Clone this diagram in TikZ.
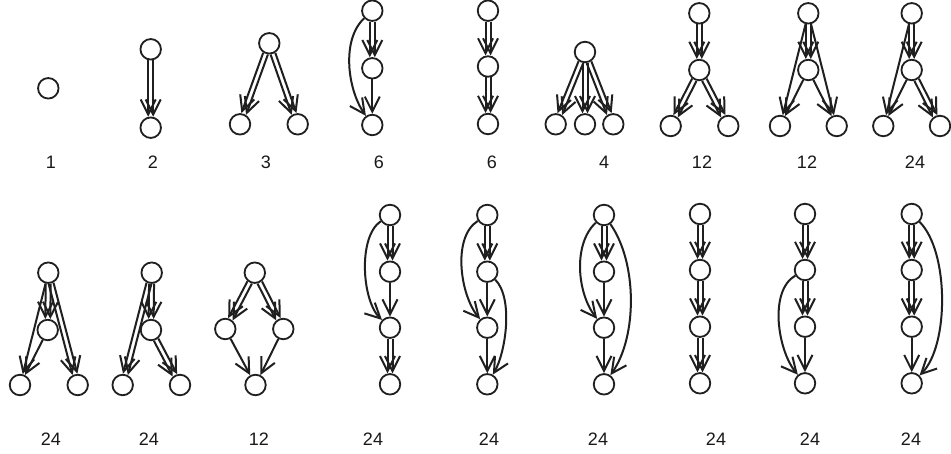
\documentclass[tikz,border=0pt]{standalone}
\usepackage{fontspec}
\setmainfont{Liberation Sans}
\usetikzlibrary{arrows.meta,calc}
\tikzset{
  nd/.style={circle,draw=black!88,line width=1.8pt,minimum size=20.5pt,inner sep=0pt},
  arr/.style={draw=black!88,line width=2pt,-{Straight Barb[length=15pt,width=15pt]}},
  lbl/.style={font=\fontsize{18}{20}\selectfont,text=black!90},
}
\newcommand\dbledge[2]{%
  \draw[arr,shorten <=11pt,shorten >=11pt] ($(#1)!2.5pt!90:(#2)$) -- ($(#2)!2.5pt!-90:(#1)$);
  \draw[arr,shorten <=11pt,shorten >=11pt] ($(#1)!2.5pt!-90:(#2)$) -- ($(#2)!2.5pt!90:(#1)$);}
\begin{document}
\begin{tikzpicture}[x=1pt,y=1pt]
\useasboundingbox[fill=white] (0,0) rectangle (951,-454);
% ---------- row 1 ----------
% D1
\node[nd] (a1) at (48.3,-88.3) {};
\node[lbl] (la) at (51,-162) {1};
% D2
\node[nd] (b1) at (150.7,-49.3) {};
\node[nd] (b2) at (150.7,-127.7) {};
\node[lbl] (lb) at (153,-162) {2};
\dbledge{b1}{b2}
% D3
\node[nd] (c1) at (269.3,-43.3) {};
\node[nd] (c2) at (240,-124.3) {};
\node[nd] (c3) at (297.7,-124.3) {};
\node[lbl] (lc) at (266,-162) {3};
\dbledge{c1}{c2}
\dbledge{c1}{c3}
% D4
\node[nd] (d1) at (372.3,-10.7) {};
\node[nd] (d2) at (372.3,-68.3) {};
\node[nd] (d3) at (372.3,-125) {};
\node[lbl] (ld) at (379,-162) {6};
\dbledge{d1}{d2}
\draw[arr] (d2) -- (d3);
\draw[arr] (d1) to[out=223,in=125,looseness=0.83] (d3);
% D5
\node[nd] (e1) at (488,-10.7) {};
\node[nd] (e2) at (488,-66.5) {};
\node[nd] (e3) at (488,-124) {};
\node[lbl] (le) at (492,-162) {6};
\dbledge{e1}{e2}
\dbledge{e2}{e3}
% D6
\node[nd] (f1) at (585,-52) {};
\node[nd] (f2) at (555.7,-124.3) {};
\node[nd] (f3) at (585,-124.3) {};
\node[nd] (f4) at (613.3,-124.3) {};
\node[lbl] (lf) at (604,-162) {4};
\dbledge{f1}{f2}
\dbledge{f1}{f3}
\dbledge{f1}{f4}
% D7
\node[nd] (g1) at (699.3,-13.3) {};
\node[nd] (g2) at (699.3,-70) {};
\node[nd] (g3) at (670.7,-126) {};
\node[nd] (g4) at (728.3,-126) {};
\node[lbl] (lg) at (702,-162) {12};
\dbledge{g1}{g2}
\dbledge{g2}{g3}
\dbledge{g2}{g4}
% D8
\node[nd] (h1) at (808.3,-13.3) {};
\node[nd] (h2) at (808.3,-70) {};
\node[nd] (h3) at (780,-126) {};
\node[nd] (h4) at (836.7,-126) {};
\node[lbl] (lh) at (807,-162) {12};
\dbledge{h1}{h2}
\draw[arr] (h1) -- (h3);
\draw[arr] (h1) -- (h4);
\draw[arr] (h2) -- (h3);
\draw[arr] (h2) -- (h4);
% D9
\node[nd] (i1) at (911.7,-13.3) {};
\node[nd] (i2) at (911.7,-70) {};
\node[nd] (i3) at (883.3,-126) {};
\node[nd] (i4) at (940,-126) {};
\node[lbl] (li) at (915,-162) {24};
\dbledge{i1}{i2}
\draw[arr] (i1) -- (i3);
\draw[arr] (i2) -- (i3);
\dbledge{i2}{i4}
% ---------- row 2 ----------
% D10
\node[nd] (j1) at (48.3,-272.7) {};
\node[nd] (j2) at (47.7,-330) {};
\node[nd] (j3) at (20,-385) {};
\node[nd] (j4) at (77.7,-385) {};
\node[lbl] (lj) at (51,-439) {24};
\dbledge{j1}{j2}
\draw[arr] (j1) -- (j3);
\dbledge{j1}{j4}
\draw[arr] (j2) -- (j3);
% D11
\node[nd] (k1) at (151.7,-272.7) {};
\node[nd] (k2) at (151,-330) {};
\node[nd] (k3) at (122.7,-385) {};
\node[nd] (k4) at (180,-385) {};
\node[lbl] (lk) at (149,-439) {24};
\dbledge{k1}{k2}
\dbledge{k1}{k3}
\dbledge{k2}{k4}
% D12
\node[nd] (l1) at (254.8,-272.7) {};
\node[nd] (l2) at (225.3,-329) {};
\node[nd] (l3) at (283.3,-329) {};
\node[nd] (l4) at (255.5,-385) {};
\node[lbl] (ll) at (259,-439) {12};
\dbledge{l1}{l2}
\dbledge{l1}{l3}
\draw[arr] (l2) -- (l4);
\draw[arr] (l3) -- (l4);
% D13
\node[nd] (m1) at (390,-215) {};
\node[nd] (m2) at (390,-271.7) {};
\node[nd] (m3) at (390,-327.7) {};
\node[nd] (m4) at (390,-384.3) {};
\node[lbl] (lm) at (373,-439) {24};
\dbledge{m1}{m2}
\draw[arr] (m2) -- (m3);
\dbledge{m3}{m4}
\draw[arr] (m1) to[out=214,in=136,looseness=0.72] (m3);
% D14
\node[nd] (n1) at (487.3,-215) {};
\node[nd] (n2) at (487.3,-271.7) {};
\node[nd] (n3) at (487.3,-327.7) {};
\node[nd] (n4) at (487.3,-384.3) {};
\node[lbl] (ln) at (489,-439) {24};
\dbledge{n1}{n2}
\draw[arr] (n2) -- (n3);
\draw[arr] (n3) -- (n4);
\draw[arr] (n1) to[out=212,in=130,looseness=0.8] (n3);
\draw[arr] (n2) to[out=-45,in=60,looseness=0.7] (n4);
% D15
\node[nd] (o1) at (604,-215) {};
\node[nd] (o2) at (604,-271.7) {};
\node[nd] (o3) at (604,-327.7) {};
\node[nd] (o4) at (604,-384.3) {};
\node[lbl] (lo) at (598,-439) {24};
\dbledge{o1}{o2}
\draw[arr] (o2) -- (o3);
\draw[arr] (o3) -- (o4);
\draw[arr] (o1) to[out=223,in=128,looseness=0.85] (o3);
\draw[arr] (o1) to[out=-55,in=55,looseness=0.8] (o4);
% D16
\node[nd] (p1) at (700,-214) {};
\node[nd] (p2) at (700,-270) {};
\node[nd] (p3) at (700,-326.7) {};
\node[nd] (p4) at (700,-383.3) {};
\node[lbl] (lp) at (716,-439) {24};
\dbledge{p1}{p2}
\dbledge{p2}{p3}
\dbledge{p3}{p4}
% D17
\node[nd] (q1) at (805,-214) {};
\node[nd] (q2) at (805,-270) {};
\node[nd] (q3) at (805,-326.7) {};
\node[nd] (q4) at (805,-383.3) {};
\node[lbl] (lq) at (810,-439) {24};
\dbledge{q1}{q2}
\dbledge{q2}{q3}
\draw[arr] (q3) -- (q4);
\draw[arr] (q2) to[out=210,in=130,looseness=0.8] (q4);
% D18
\node[nd] (r1) at (911.7,-214) {};
\node[nd] (r2) at (911.7,-270) {};
\node[nd] (r3) at (911.7,-326.7) {};
\node[nd] (r4) at (911.7,-383.3) {};
\node[lbl] (lr) at (911,-439) {24};
\dbledge{r1}{r2}
\dbledge{r2}{r3}
\draw[arr] (r3) -- (r4);
\draw[arr] (r1) to[out=-45,in=45,looseness=0.7] (r4);
\end{tikzpicture}
\end{document}
